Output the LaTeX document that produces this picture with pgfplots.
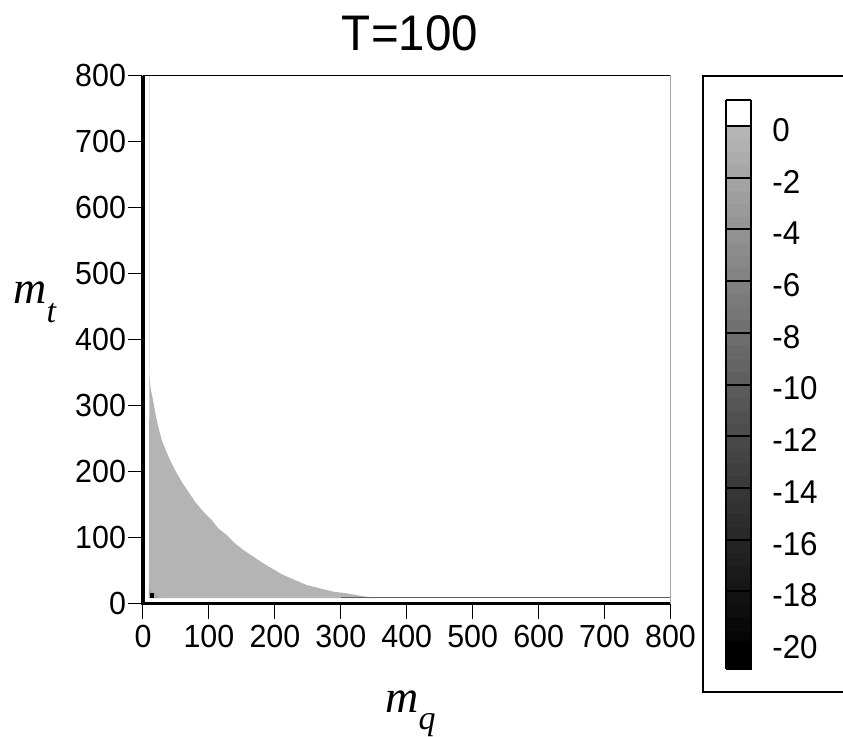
\documentclass[border=0pt]{standalone}
\usepackage{fontspec}
\setmainfont{Liberation Sans}[FakeStretch=0.95]
\newfontfamily\lser{Liberation Serif}
\usepackage{pgfplots}
\pgfplotsset{compat=1.18}
\definecolor{region}{gray}{0.705}
\definecolor{corner}{gray}{0.665}

% boundary of the grey region (m_q, m_t)
\newcommand{\regionpts}{(9,8) (9.6,348.9) (11.6,326.1) (15.7,305.9) (19.7,283.2) (23.3,268.0)
 (28.3,247.8) (34.4,232.7) (40.9,217.5) (50.0,199.8) (58.6,184.6) (68.7,169.5)
 (78.9,154.3) (91.5,139.2) (104.1,126.6) (114.2,113.9) (126.9,103.8) (139.5,91.2)
 (152.2,81.1) (167.3,71.0) (182.5,60.9) (197.7,51.8) (212.8,43.2) (228.0,36.6)
 (248.2,28.0) (268.4,23.0) (288.6,17.9) (308.9,15.4) (329.1,11.9) (352,8)}

\begin{document}
\begin{tikzpicture}
\useasboundingbox (0,0) rectangle (421.5pt,368pt);

\begin{axis}[
  at={(71.5pt,66.25pt)}, anchor=south west,
  scale only axis, width=263.75pt, height=263.9pt,
  xmin=0, xmax=800, ymin=0, ymax=800,
  xtick={0,100,...,800}, ytick={0,100,...,800},
  tick pos=left, tick align=outside,
  major tick length=7.5pt,
  tick style={black, line width=0.5pt},
  axis line style={draw=gray!70, line width=0.5pt},
  /pgf/number format/assume math mode=true,
  ticklabel style={font=\fontsize{16}{19}\selectfont},
  yticklabel style={xshift=2.5pt},
  clip=false,
  point meta min=-21, point meta max=1,
  colormap access=piecewise constant,
  colormap={cbar}{gray(0pt)=(0) gray(1pt)=(0)
    gray(2pt)=(0.0178) gray(3pt)=(0.0355) gray(4pt)=(0.0533) gray(5pt)=(0.0710)
    gray(6pt)=(0.0888) gray(7pt)=(0.1065) gray(8pt)=(0.1243) gray(9pt)=(0.1420)
    gray(10pt)=(0.1598) gray(11pt)=(0.1775) gray(12pt)=(0.1953) gray(13pt)=(0.2130)
    gray(14pt)=(0.2308) gray(15pt)=(0.2485) gray(16pt)=(0.2663) gray(17pt)=(0.2840)
    gray(18pt)=(0.3018) gray(19pt)=(0.3195) gray(20pt)=(0.3373) gray(21pt)=(0.3550)
    gray(22pt)=(0.3728) gray(23pt)=(0.3905) gray(24pt)=(0.4083) gray(25pt)=(0.4260)
    gray(26pt)=(0.4438) gray(27pt)=(0.4615) gray(28pt)=(0.4793) gray(29pt)=(0.4970)
    gray(30pt)=(0.5148) gray(31pt)=(0.5325) gray(32pt)=(0.5503) gray(33pt)=(0.5680)
    gray(34pt)=(0.5858) gray(35pt)=(0.6035) gray(36pt)=(0.6213) gray(37pt)=(0.6390)
    gray(38pt)=(0.6568) gray(39pt)=(0.6745) gray(40pt)=(0.6923) gray(41pt)=(0.7100)
    gray(42pt)=(1) gray(43pt)=(1) gray(44pt)=(1)},
  colorbar,
  colorbar style={
    at={(parent axis.north east)}, anchor=north west,
    xshift=19.1pt, yshift=-12.15pt,
    scale only axis, width=12.75pt, height=284.5pt,
    ytick={-20,-18,...,0},
    yticklabels={-20,-18,-16,-14,-12,-10,-8,-6,-4,-2,0},
    ymajorgrids, major grid style={black, line width=1pt},
    major tick length=0pt, axis on top,
    axis line style={black, line width=1pt},
    yticklabel style={font=\fontsize{16.5}{19}\selectfont, xshift=7pt, yshift=-2pt},
  },
]
\addplot[fill=region, draw=none] coordinates {\regionpts} -- cycle;
\addplot[fill=corner, draw=none] coordinates {(9,8) (26,8) (9,24)} -- cycle;
\addplot[fill=black, draw=none] coordinates {(10,9) (17,9) (17,16) (10,16)} -- cycle;
\addplot[draw=gray!75!black, line width=0.6pt] coordinates {(300,8.6) (800,8.6)};
\addplot[draw=gray!20, line width=0.5pt] coordinates {(9.5,350) (9.5,800)};
\draw[black, line width=0.7pt] (rel axis cs:0,1) -- (rel axis cs:1,1);
\draw[black, line width=1.7pt] (rel axis cs:0,1) -- (rel axis cs:0,0) -- (rel axis cs:1,0);
\end{axis}

% frame round the colour bar, cut by the right edge of the picture
\draw[black, line width=1pt] (430pt,330.15pt) -- (351.5pt,330.15pt) -- (351.5pt,22pt) -- (430pt,22pt);

\node[anchor=base, font=\fontsize{25}{30}\selectfont] at (205pt,342.5pt) {T=100};
\node[anchor=base west, inner sep=0pt, font=\lser\itshape\fontsize{23}{27}\selectfont]
  at (6.5pt,216.5pt) {m\raisebox{-9.5pt}{\fontsize{17}{20}\selectfont t}};
\node[anchor=base west, inner sep=0pt, font=\lser\itshape\fontsize{23}{27}\selectfont]
  at (192.5pt,12pt) {m\raisebox{-8.5pt}{\fontsize{17}{20}\selectfont q}};
\end{tikzpicture}
\end{document}
